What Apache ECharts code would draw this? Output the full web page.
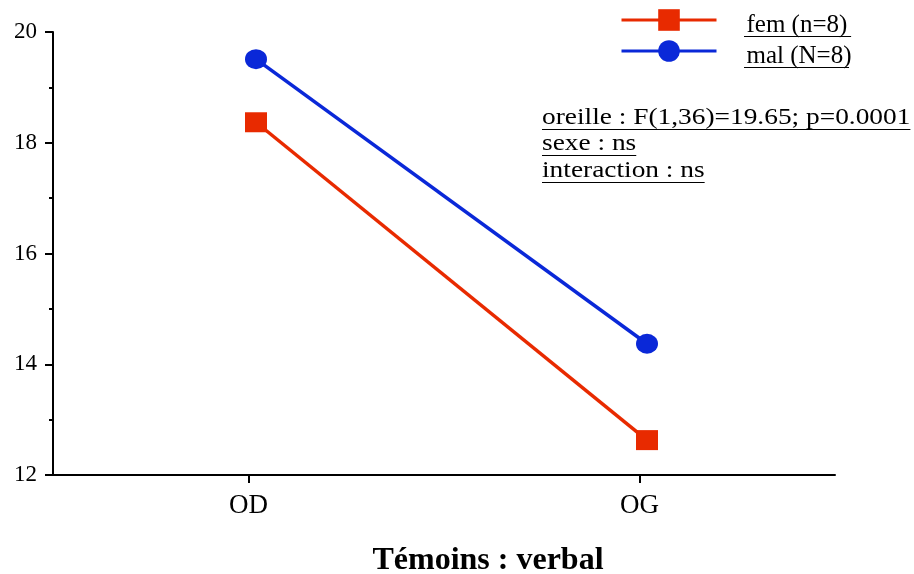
<!DOCTYPE html>
<html><head><meta charset="utf-8">
<script src="https://cdn.jsdelivr.net/npm/echarts@6/dist/echarts.min.js"></script>
<style>html,body{margin:0;padding:0;background:#fff}#c{width:914px;height:574px}</style>
</head><body><div id="c"></div>
<script>
const categories = ['OD', 'OG'];
const femValues = [18.37, 12.63];
const malValues = [19.51, 14.37];
const seriesNames = ['fem (n=8) ', 'mal (N=8)'];
const yTicks = [12, 14, 16, 18, 20];
const statsLines = ['oreille : F(1,36)=19.65; p=0.0001', 'sexe : ns', 'interaction : ns'];
const xTitle = 'Témoins : verbal';

const RED = '#E82A00', BLUE = '#0A28D8';
const FONT = '"Liberation Serif", "Times New Roman", serif';
const LEG = 25;      // legend font size
const ANN = 23;      // annotation font size
const ANN_SX = 1.19; // horizontal stretch of annotation text

const mctx = document.createElement('canvas').getContext('2d');
function tw(s, size, weight) { mctx.font = (weight || 'normal') + ' ' + size + 'px ' + FONT; return mctx.measureText(s).width; }

const chart = echarts.init(document.getElementById('c'), null, {renderer: 'canvas'});

const graphic = [];
// legend underlines
const legX = 744;
[36.5, 67.5].forEach((y, i) => {
  graphic.push({type: 'line', shape: {x1: legX, y1: y, x2: legX + tw(seriesNames[i], LEG), y2: y}, style: {stroke: '#000', lineWidth: 1}});
});
// stats text
statsLines.forEach((s, i) => {
  const mid = 118 + i * 26.3;
  graphic.push({type: 'text', x: 542, y: mid, scaleX: ANN_SX, style: {text: s, font: ANN + 'px ' + FONT, fill: '#000', verticalAlign: 'middle', align: 'left'}});
  const uy = Math.round(mid + 11) + 0.5;
  graphic.push({type: 'line', shape: {x1: 542, y1: uy, x2: 542 + tw(s, ANN) * ANN_SX, y2: uy}, style: {stroke: '#000', lineWidth: 1}});
});
graphic.push({type: 'text', x: 488, y: 561, style: {text: xTitle, font: 'bold 32px ' + FONT, fill: '#000', align: 'center', verticalAlign: 'middle'}});

const axisBlack = {lineStyle: {color: '#000', width: 2}};
chart.setOption({
  animation: false,
  backgroundColor: '#fff',
  grid: [
    {left: 53, right: 79, top: 32, bottom: 99},
    {left: 60.5, right: 71.5, top: 32, bottom: 99}
  ],
  xAxis: [
    {type: 'category', gridIndex: 0, data: categories, boundaryGap: true,
     axisLine: axisBlack, axisTick: {show: true, alignWithLabel: true, length: 8, lineStyle: {color: '#000', width: 2}},
     axisLabel: {color: '#000', fontFamily: FONT, fontSize: 27, margin: 17}, splitLine: {show: false}},
    {type: 'category', gridIndex: 1, data: categories, boundaryGap: true, show: false}
  ],
  yAxis: [
    {type: 'value', gridIndex: 0, min: yTicks[0], max: yTicks[yTicks.length - 1], interval: yTicks[1] - yTicks[0],
     axisLine: {show: true, lineStyle: {color: '#000', width: 2}},
     axisTick: {show: true, length: 8, lineStyle: {color: '#000', width: 2}},
     minorTick: {show: true, splitNumber: 2, length: 4, lineStyle: {color: '#000', width: 2}},
     axisLabel: {color: '#000', fontFamily: FONT, fontSize: 23, margin: 16},
     splitLine: {show: false}},
    {type: 'value', gridIndex: 1, min: yTicks[0], max: yTicks[yTicks.length - 1], show: false, splitLine: {show: false}}
  ],
  legend: {
    orient: 'vertical', left: 620, top: 2, padding: 0, itemWidth: 95, itemHeight: 27, itemGap: -5,
    lineStyle: {width: 3},
    formatter: name => '{t|' + name + '}',
    textStyle: {
      fontFamily: FONT, fontSize: LEG, color: '#000', padding: [0, 0, 0, 25],
      rich: {t: {fontFamily: FONT, fontSize: LEG, color: '#000', lineHeight: 18, padding: [11, 0, 0, 0]}}
    },
    data: seriesNames
  },
  series: [
    {name: seriesNames[0], type: 'line', xAxisIndex: 1, yAxisIndex: 1, data: femValues,
     symbol: 'rect', symbolSize: [22, 20], itemStyle: {color: RED}, lineStyle: {color: RED, width: 3.5}},
    {name: seriesNames[1], type: 'line', xAxisIndex: 1, yAxisIndex: 1, data: malValues,
     symbol: 'circle', symbolSize: [22, 20], itemStyle: {color: BLUE}, lineStyle: {color: BLUE, width: 3.5}}
  ],
  graphic: graphic
});
</script></body></html>
